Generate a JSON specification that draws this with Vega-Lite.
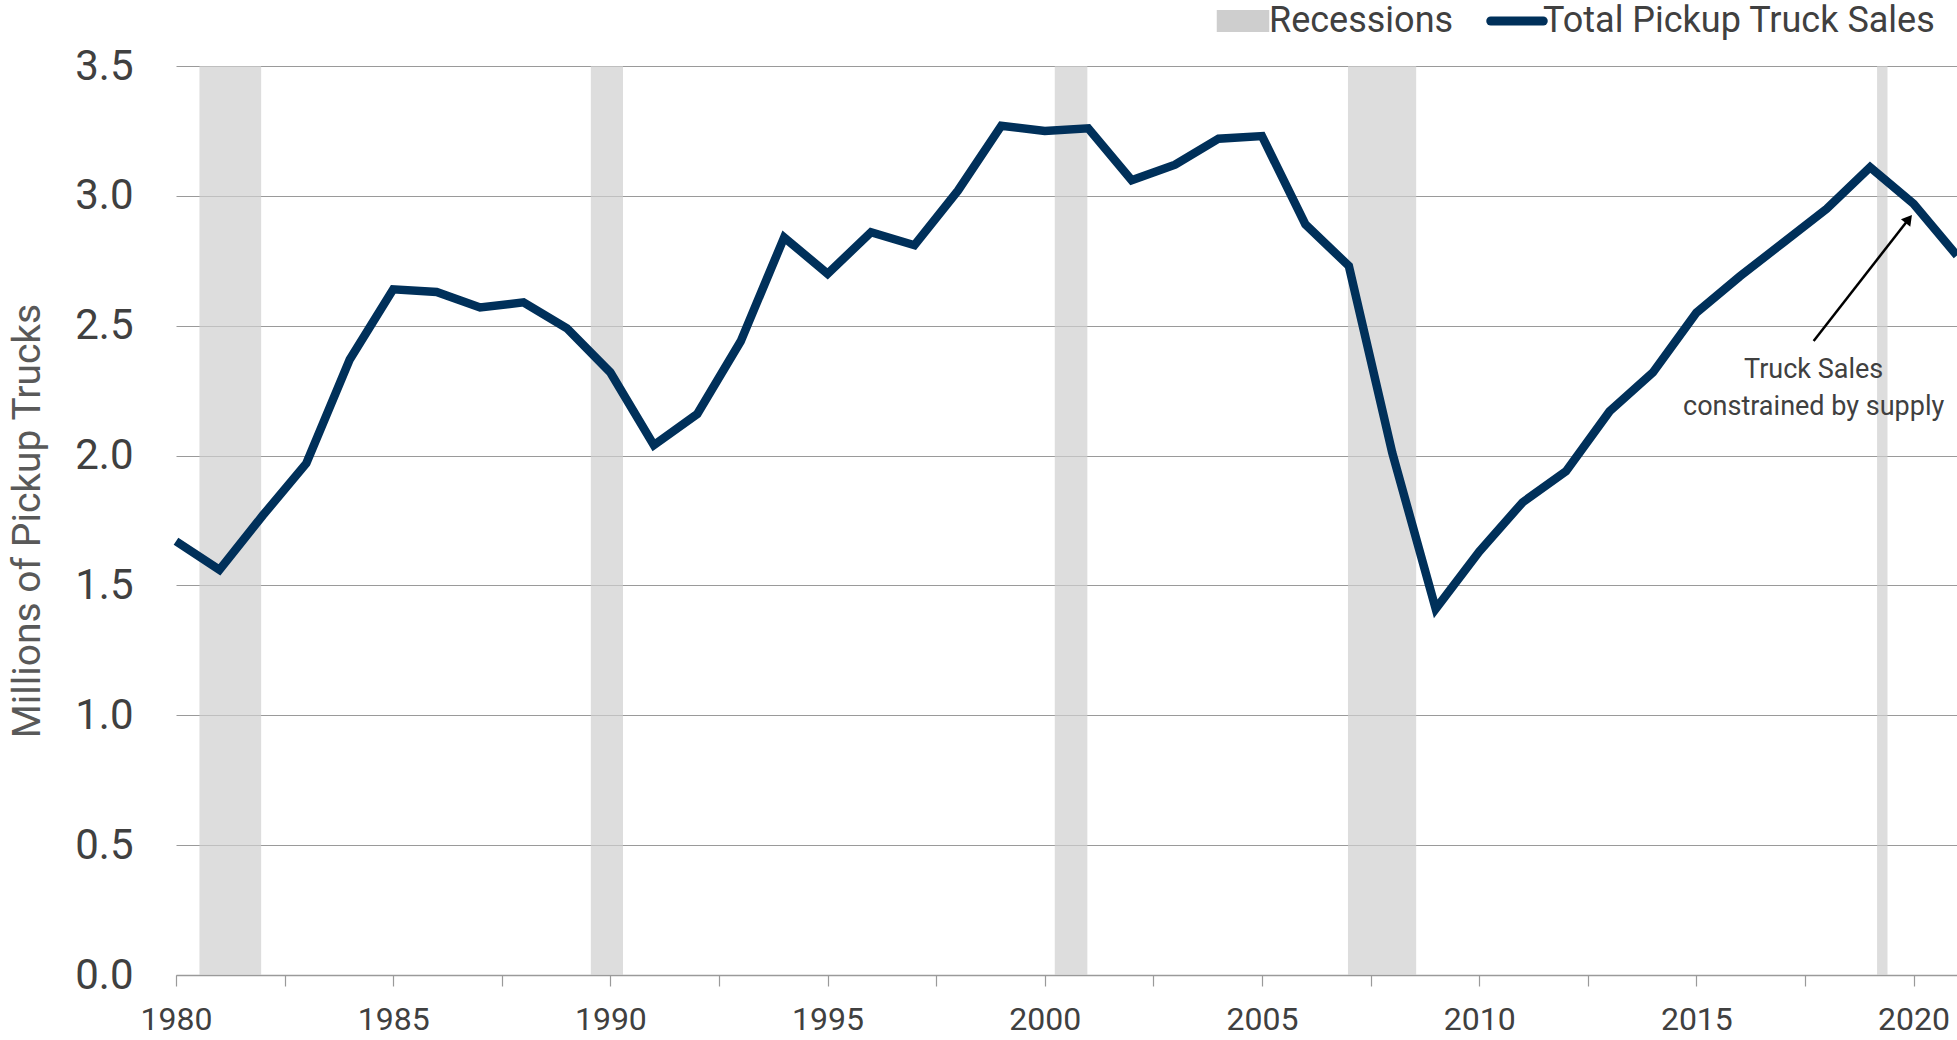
{
  "$schema": "https://vega.github.io/schema/vega-lite/v6.json",
  "width": 1781,
  "height": 909,
  "autosize": {"type": "none"},
  "padding": {"left": 176, "top": 66, "right": 0, "bottom": 65},
  "background": "white",
  "config": {
    "font": "Roboto, sans-serif",
    "view": {"stroke": null}
  },
  "datasets": {
    "sales": [
      {"year": 1980, "value": 1.67}, {"year": 1981, "value": 1.56}, {"year": 1982, "value": 1.77},
      {"year": 1983, "value": 1.97}, {"year": 1984, "value": 2.37}, {"year": 1985, "value": 2.64},
      {"year": 1986, "value": 2.63}, {"year": 1987, "value": 2.57}, {"year": 1988, "value": 2.59},
      {"year": 1989, "value": 2.49}, {"year": 1990, "value": 2.32}, {"year": 1991, "value": 2.04},
      {"year": 1992, "value": 2.16}, {"year": 1993, "value": 2.44}, {"year": 1994, "value": 2.84},
      {"year": 1995, "value": 2.70}, {"year": 1996, "value": 2.86}, {"year": 1997, "value": 2.81},
      {"year": 1998, "value": 3.02}, {"year": 1999, "value": 3.27}, {"year": 2000, "value": 3.25},
      {"year": 2001, "value": 3.26}, {"year": 2002, "value": 3.06}, {"year": 2003, "value": 3.12},
      {"year": 2004, "value": 3.22}, {"year": 2005, "value": 3.23}, {"year": 2006, "value": 2.89},
      {"year": 2007, "value": 2.73}, {"year": 2008, "value": 2.01}, {"year": 2009, "value": 1.41},
      {"year": 2010, "value": 1.63}, {"year": 2011, "value": 1.82}, {"year": 2012, "value": 1.94},
      {"year": 2013, "value": 2.17}, {"year": 2014, "value": 2.32}, {"year": 2015, "value": 2.55},
      {"year": 2016, "value": 2.69}, {"year": 2017, "value": 2.82}, {"year": 2018, "value": 2.95},
      {"year": 2019, "value": 3.11}, {"year": 2020, "value": 2.97}, {"year": 2021, "value": 2.77}
    ],
    "recessions": [
      {"start": 1980.54, "end": 1981.96},
      {"start": 1989.55, "end": 1990.29},
      {"start": 2000.23, "end": 2000.98},
      {"start": 2006.98, "end": 2008.55},
      {"start": 2019.16, "end": 2019.40}
    ],
    "arrow": [
      {"x1": 2017.70, "y1": 2.441, "x2": 2019.89, "y2": 2.911}
    ],
    "note": [
      {"year": 2017.70, "value": 2.30, "label": ["Truck Sales", "constrained by supply"]}
    ]
  },
  "layer": [
    {
      "data": {"name": "recessions"},
      "mark": {"type": "rect", "opacity": 0.7},
      "encoding": {
        "x": {
          "field": "start", "type": "quantitative", "title": null,
          "scale": {"domain": [1980, 2021], "nice": false, "zero": false},
          "axis": {
            "title": null,
            "values": [1980, 1982.5, 1985, 1987.5, 1990, 1992.5, 1995, 1997.5, 2000, 2002.5, 2005, 2007.5, 2010, 2012.5, 2015, 2017.5, 2020],
            "format": "d",
            "labelExpr": "datum.value % 5 === 0 ? datum.label : ''",
            "grid": false,
            "domainColor": "#9a9a9a",
            "domainWidth": 1.5,
            "tickColor": "#9a9a9a",
            "tickWidth": 1.2,
            "tickSize": 11,
            "labelFontSize": 32,
            "labelColor": "#404040",
            "labelPadding": 18,
            "labelFlush": false,
            "labelOverlap": false,
            "encode": {"ticks": {"update": {"y": {"value": -9}, "y2": {"signal": "datum.value % 5 === 0 ? 11 : 0"}}}}
          }
        },
        "x2": {"field": "end"},
        "y": {
          "datum": 3.5, "type": "quantitative", "title": "Millions of Pickup Trucks",
          "scale": {"domain": [0, 3.5], "nice": false},
          "axis": {
            "title": "Millions of Pickup Trucks",
            "values": [0, 0.5, 1, 1.5, 2, 2.5, 3, 3.5],
            "format": ".1f",
            "grid": true,
            "gridColor": "#9a9a9a",
            "gridWidth": 1,
            "domain": false,
            "ticks": false,
            "tickSize": 0,
            "labelFontSize": 42,
            "labelColor": "#404040",
            "labelPadding": 43,
            "labelFlush": false,
            "titleFontSize": 39,
            "titleFontWeight": "normal",
            "titleColor": "#595959",
            "titlePadding": 27
          }
        },
        "y2": {"datum": 0},
        "color": {"datum": "Recessions"}
      }
    },
    {
      "data": {"name": "sales"},
      "mark": {"type": "line", "strokeWidth": 8.5, "strokeJoin": "miter", "strokeCap": "butt"},
      "encoding": {
        "x": {"field": "year", "type": "quantitative", "title": null},
        "y": {"field": "value", "type": "quantitative", "title": "Millions of Pickup Trucks"},
        "color": {
          "datum": "Total Pickup Truck Sales",
          "scale": {"domain": ["Recessions", "Total Pickup Truck Sales"], "range": ["#cecece", "#00305a"]},
          "legend": {
            "title": null,
            "orient": "none",
            "direction": "horizontal",
            "legendX": 1049,
            "legendY": -63,
            "symbolSize": 2756,
            "labelFontSize": 36,
            "labelColor": "#404040",
            "labelOffset": 8,
            "labelLimit": 1000,
            "columnPadding": 18,
            "padding": 0,
            "encode": {
              "symbols": {
                "update": {
                  "shape": {"signal": "datum.value === 'Recessions' ? 'M-1,-0.42H1V0.42H-1Z' : 'M-1,0H1'"},
                  "fill": {"signal": "datum.value === 'Recessions' ? '#dddddd' : 'transparent'"},
                  "stroke": {"signal": "datum.value === 'Recessions' ? 'transparent' : '#00305a'"},
                  "strokeWidth": {"signal": "datum.value === 'Recessions' ? 0 : 9"},
                  "strokeCap": {"value": "round"},
                  "opacity": {"value": 1},
                  "fillOpacity": {"value": 1},
                  "strokeOpacity": {"value": 1}
                }
              }
            }
          }
        }
      }
    },
    {
      "data": {"name": "arrow"},
      "mark": {"type": "rule", "color": "black", "strokeWidth": 2.5},
      "encoding": {
        "x": {"field": "x1", "type": "quantitative", "title": null},
        "y": {"field": "y1", "type": "quantitative", "title": "Millions of Pickup Trucks"},
        "x2": {"field": "x2"},
        "y2": {"field": "y2"}
      }
    },
    {
      "data": {"name": "arrow"},
      "mark": {"type": "point", "shape": "triangle-up", "filled": true, "color": "black", "size": 140, "angle": 38, "opacity": 1},
      "encoding": {
        "x": {"field": "x2", "type": "quantitative", "title": null},
        "y": {"field": "y2", "type": "quantitative", "title": "Millions of Pickup Trucks"}
      }
    },
    {
      "data": {"name": "note"},
      "mark": {"type": "text", "fontSize": 27, "color": "#404040", "align": "center", "baseline": "alphabetic", "lineHeight": 37},
      "encoding": {
        "x": {"field": "year", "type": "quantitative", "title": null},
        "y": {"field": "value", "type": "quantitative", "title": "Millions of Pickup Trucks"},
        "text": {"field": "label"}
      }
    }
  ]
}
